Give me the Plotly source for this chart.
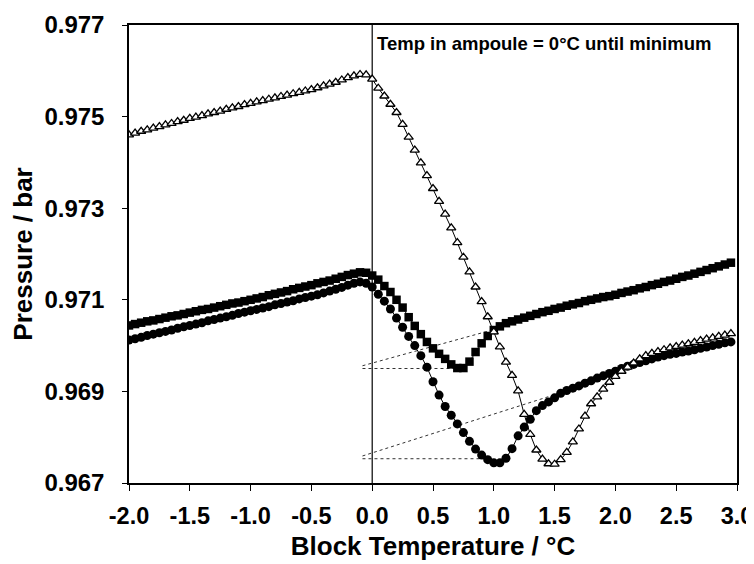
import plotly.graph_objects as go

# Block temperature grid (°C)
temps = [round(-2.0 + 0.05 * i, 2) for i in range(100)]

# Open triangles series (bar)
tri_p = [
    0.97460, 0.97464, 0.97468, 0.97471, 0.97475, 0.97478, 0.97482, 0.97485, 0.97489, 0.97492,
    0.97496, 0.97499, 0.97502, 0.97506, 0.97509, 0.97512, 0.97516, 0.97519, 0.97522, 0.97526,
    0.97529, 0.97532, 0.97535, 0.97538, 0.97541, 0.97544, 0.97547, 0.97550, 0.97553, 0.97556,
    0.97559, 0.97563, 0.97567, 0.97571, 0.97575, 0.97580, 0.97585, 0.97589, 0.97592, 0.97591,
    0.97582, 0.97562, 0.97545, 0.97527, 0.97509, 0.97483, 0.97455, 0.97427, 0.97399, 0.97371,
    0.97343, 0.97315, 0.97287, 0.97257, 0.97225, 0.97193, 0.97161, 0.97128, 0.97096, 0.97063,
    0.97030, 0.96997, 0.96964, 0.96935, 0.96901, 0.96850, 0.96806, 0.96772, 0.96752, 0.96742,
    0.96741, 0.96751, 0.96767, 0.96790, 0.96818, 0.96846, 0.96873, 0.96888, 0.96905, 0.96920,
    0.96933, 0.96944, 0.96953, 0.96962, 0.96971, 0.96978, 0.96983, 0.96987, 0.96991, 0.96995,
    0.96998, 0.97001, 0.97004, 0.97007, 0.97011, 0.97014, 0.97017, 0.97020, 0.97023, 0.97026,
]

# Filled squares series (bar)
sq_p = [
    0.97044, 0.97047, 0.97050, 0.97053, 0.97055, 0.97058, 0.97061, 0.97064, 0.97066, 0.97069,
    0.97072, 0.97075, 0.97078, 0.97080, 0.97083, 0.97086, 0.97089, 0.97092, 0.97094, 0.97097,
    0.97100, 0.97103, 0.97106, 0.97110, 0.97113, 0.97116, 0.97119, 0.97123, 0.97126, 0.97129,
    0.97132, 0.97136, 0.97139, 0.97142, 0.97146, 0.97150, 0.97154, 0.97157, 0.97160, 0.97159,
    0.97153, 0.97144, 0.97130, 0.97117, 0.97100, 0.97083, 0.97062, 0.97043, 0.97025, 0.97008,
    0.96994, 0.96982, 0.96971, 0.96959, 0.96951, 0.96951, 0.96965, 0.96986, 0.97005, 0.97021,
    0.97034, 0.97042, 0.97049, 0.97053, 0.97057, 0.97061, 0.97065, 0.97069, 0.97073, 0.97076,
    0.97080, 0.97083, 0.97087, 0.97090, 0.97093, 0.97097, 0.97100, 0.97103, 0.97106, 0.97108,
    0.97111, 0.97115, 0.97118, 0.97121, 0.97125, 0.97128, 0.97132, 0.97135, 0.97139, 0.97142,
    0.97146, 0.97150, 0.97153, 0.97157, 0.97161, 0.97165, 0.97169, 0.97173, 0.97177, 0.97181,
]

# Filled circles series (bar)
ci_p = [
    0.97012, 0.97015, 0.97018, 0.97022, 0.97025, 0.97028, 0.97031, 0.97034, 0.97038, 0.97041,
    0.97044, 0.97047, 0.97050, 0.97054, 0.97057, 0.97060, 0.97063, 0.97066, 0.97070, 0.97073,
    0.97076, 0.97079, 0.97082, 0.97085, 0.97089, 0.97092, 0.97095, 0.97098, 0.97102, 0.97105,
    0.97108, 0.97111, 0.97115, 0.97119, 0.97123, 0.97127, 0.97132, 0.97136, 0.97139, 0.97136,
    0.97128, 0.97112, 0.97097, 0.97080, 0.97060, 0.97040, 0.97020, 0.97000, 0.96978, 0.96953,
    0.96921, 0.96892, 0.96867, 0.96848, 0.96829, 0.96810, 0.96791, 0.96774, 0.96761, 0.96751,
    0.96744, 0.96744, 0.96754, 0.96775, 0.96803, 0.96822, 0.96839, 0.96858, 0.96869, 0.96877,
    0.96886, 0.96896, 0.96902, 0.96907, 0.96912, 0.96918, 0.96923, 0.96929, 0.96934, 0.96939,
    0.96944, 0.96950, 0.96955, 0.96959, 0.96963, 0.96967, 0.96971, 0.96975, 0.96978, 0.96981,
    0.96983, 0.96986, 0.96988, 0.96991, 0.96994, 0.96997, 0.97000, 0.97003, 0.97006, 0.97008,
]

# Dotted construction lines (start/end points)
sq_min_x = [-0.08, 0.70]
sq_min_y = [0.96950, 0.96950]
sq_ext_x = [-0.08, 1.00]
sq_ext_y = [0.96956, 0.97035]
ci_min_x = [-0.08, 0.95]
ci_min_y = [0.96753, 0.96753]
ci_ext_x = [-0.08, 1.55]
ci_ext_y = [0.96759, 0.96897]

# Vertical marker line at block temperature 0 °C
zero_line_x = [0.0, 0.0]
zero_line_y = [0.967, 0.977]

x_ticks = [-2.0, -1.5, -1.0, -0.5, 0.0, 0.5, 1.0, 1.5, 2.0, 2.5, 3.0]
x_ticktext = ["-2.0", "-1.5", "-1.0", "-0.5", "0.0", "0.5", "1.0", "1.5", "2.0", "2.5", "3.0"]
y_ticks = [0.967, 0.969, 0.971, 0.973, 0.975, 0.977]
y_ticktext = ["0.967", "0.969", "0.971", "0.973", "0.975", "0.977"]

FONT = "Liberation Sans, Arial, sans-serif"

fig = go.Figure()

fig.add_trace(go.Scatter(x=zero_line_x, y=zero_line_y, mode="lines",
                         line=dict(color="black", width=1.2), hoverinfo="skip"))

for xs, ys in [(sq_min_x, sq_min_y), (sq_ext_x, sq_ext_y), (ci_min_x, ci_min_y), (ci_ext_x, ci_ext_y)]:
    fig.add_trace(go.Scatter(x=xs, y=ys, mode="lines",
                             line=dict(color="#333333", width=1, dash="dot")))

fig.add_trace(go.Scatter(x=temps, y=sq_p, mode="lines+markers",
                         line=dict(color="black", width=1),
                         marker=dict(symbol="square", size=8.5, color="black")))
fig.add_trace(go.Scatter(x=temps, y=ci_p, mode="lines+markers",
                         line=dict(color="black", width=1),
                         marker=dict(symbol="circle", size=9, color="black")))
fig.add_trace(go.Scatter(x=temps, y=tri_p, mode="lines+markers",
                         line=dict(color="black", width=1),
                         marker=dict(symbol="triangle-up", size=8, color="white",
                                     line=dict(color="black", width=1.3))))

fig.add_annotation(text="Temp in ampoule = 0°C until minimum",
                   xref="x", yref="paper", x=0.0, y=1.0,
                   xanchor="left", yanchor="top", xshift=3, yshift=-6,
                   showarrow=False,
                   font=dict(family=FONT, size=18.5, color="black", weight="bold"))

# The page body adds an 8 px offset; margins compensate so the plot area
# sits at x 129..737, y 25..483 of the window.
fig.update_layout(
    width=754, height=564,
    margin=dict(l=121, r=25, t=17, b=89),
    paper_bgcolor="white", plot_bgcolor="white",
    showlegend=False,
    font=dict(family=FONT, color="black"),
)

fig.update_xaxes(
    range=[-2.0, 3.0], tickvals=x_ticks, ticktext=x_ticktext,
    automargin=False,
    showgrid=False, zeroline=False,
    showline=True, linecolor="black", linewidth=1.5, mirror=True,
    ticks="outside", ticklen=6, tickwidth=1.2, tickcolor="black",
    ticklabelstandoff=5,
    tickfont=dict(family=FONT, size=23.5, color="black", weight="bold"),
    title=dict(text="Block Temperature / °C", standoff=9,
               font=dict(family=FONT, size=26, color="black", weight="bold")),
)
fig.update_yaxes(
    range=[0.967, 0.977], tickvals=y_ticks, ticktext=y_ticktext,
    automargin=False,
    showgrid=False, zeroline=False,
    showline=True, linecolor="black", linewidth=1.5, mirror=True,
    ticks="outside", ticklen=5, tickwidth=1.2, tickcolor="black",
    ticklabelstandoff=13,
    tickfont=dict(family=FONT, size=24, color="black", weight="bold"),
    title=dict(text="Pressure / bar", standoff=8,
               font=dict(family=FONT, size=26, color="black", weight="bold")),
)

fig.write_html("out.html")
